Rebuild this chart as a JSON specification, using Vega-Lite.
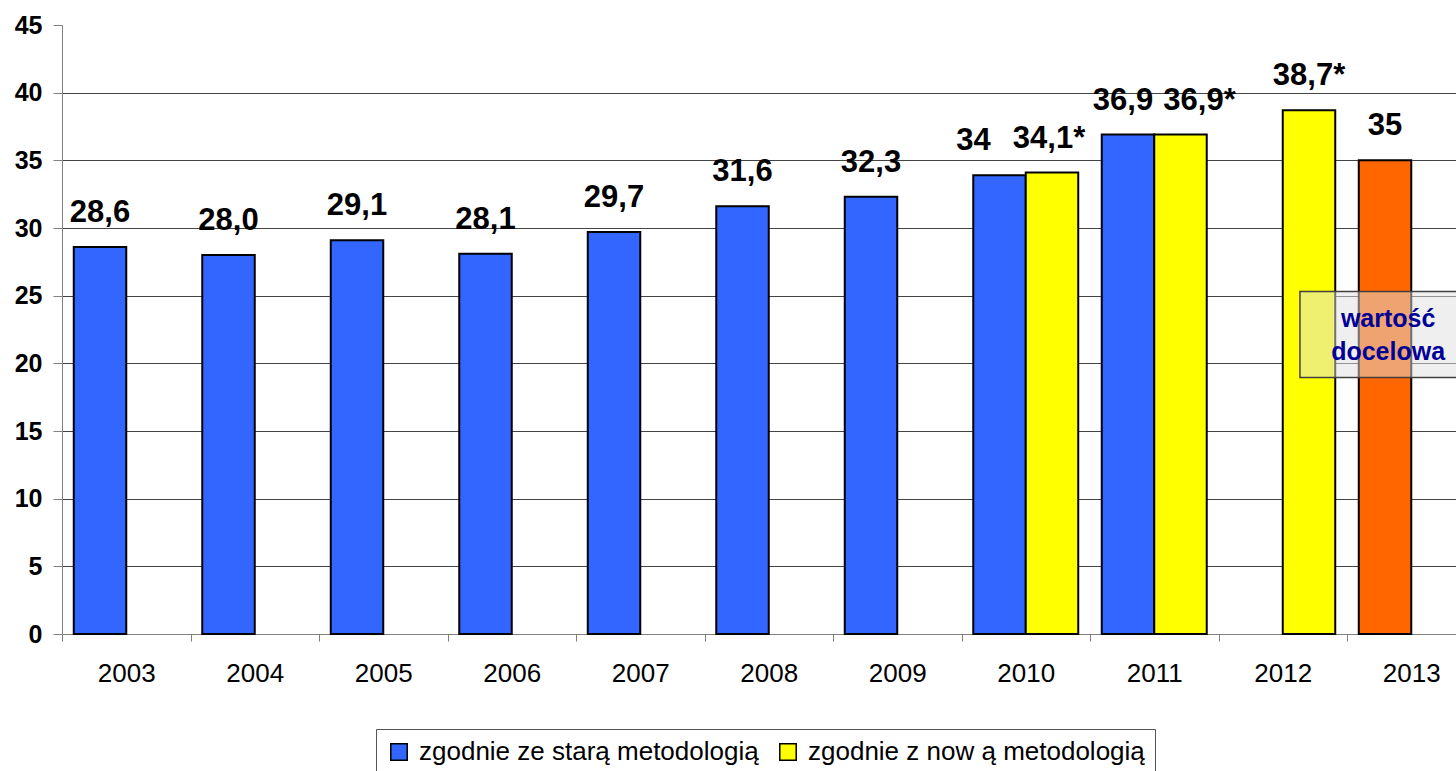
{
  "$schema": "https://vega.github.io/schema/vega-lite/v6.json",
  "width": 1394,
  "height": 609,
  "autosize": {"type": "none"},
  "padding": {"left": 62, "top": 25, "right": 0, "bottom": 137},
  "background": "white",
  "config": {"view": {"stroke": null}, "font": "Liberation Sans"},
  "datasets": {
    "bars": [
      {"year": "2003", "slot": "a", "series": "zgodnie ze starą metodologią", "value": 28.6, "label": "28,6"},
      {"year": "2004", "slot": "a", "series": "zgodnie ze starą metodologią", "value": 28.0, "label": "28,0"},
      {"year": "2005", "slot": "a", "series": "zgodnie ze starą metodologią", "value": 29.1, "label": "29,1"},
      {"year": "2006", "slot": "a", "series": "zgodnie ze starą metodologią", "value": 28.1, "label": "28,1"},
      {"year": "2007", "slot": "a", "series": "zgodnie ze starą metodologią", "value": 29.7, "label": "29,7"},
      {"year": "2008", "slot": "a", "series": "zgodnie ze starą metodologią", "value": 31.6, "label": "31,6"},
      {"year": "2009", "slot": "a", "series": "zgodnie ze starą metodologią", "value": 32.3, "label": "32,3"},
      {"year": "2010", "slot": "a", "series": "zgodnie ze starą metodologią", "value": 33.9, "label": "34"},
      {"year": "2010", "slot": "b", "series": "zgodnie z now ą metodologią", "value": 34.1, "label": "34,1*"},
      {"year": "2011", "slot": "a", "series": "zgodnie ze starą metodologią", "value": 36.9, "label": "36,9"},
      {"year": "2011", "slot": "b", "series": "zgodnie z now ą metodologią", "value": 36.9, "label": "36,9*"},
      {"year": "2012", "slot": "b", "series": "zgodnie z now ą metodologią", "value": 38.7, "label": "38,7*"},
      {"year": "2013", "slot": "a", "series": "cel", "value": 35, "label": "35"}
    ],
    "note": [{"x1": "2012", "x2": "2013", "top": 25.3, "bottom": 18.95}],
    "notetext": [
      {"year": "2013", "line": "wartość", "y": 22.65},
      {"year": "2013", "line": "docelowa", "y": 20.28}
    ]
  },
  "layer": [
    {
      "data": {"name": "bars"},
      "mark": {"type": "bar", "stroke": "black", "strokeWidth": 2},
      "encoding": {
        "x": {
          "field": "year", "type": "ordinal",
          "scale": {"domain": ["2003","2004","2005","2006","2007","2008","2009","2010","2011","2012","2013"], "range": [0, 1413.5], "paddingInner": 0, "paddingOuter": 0},
          "axis": {"title": null, "labelAngle": 0, "tickBand": "extent", "tickSize": 7, "tickColor": "#808080", "domainColor": "#808080", "labelFontSize": 26, "labelColor": "black", "labelPadding": 19, "grid": false}
        },
        "xOffset": {"field": "slot", "type": "nominal", "scale": {"domain": ["a", "b"], "paddingInner": 0, "paddingOuter": 0.224}},
        "y": {
          "field": "value", "type": "quantitative",
          "scale": {"domain": [0, 45], "nice": false},
          "axis": {"title": null, "values": [0,5,10,15,20,25,30,35,40,45], "grid": true,
            "gridColor": {"condition": {"test": "datum.value === 45 || datum.value === 0", "value": "transparent"}, "value": "#444444"},
            "domainColor": "#808080", "tickColor": "#808080", "tickSize": 9, "labelFontSize": 25, "labelFontWeight": "bold", "labelColor": "black", "labelPadding": 11}
        },
        "color": {
          "field": "series", "type": "nominal",
          "scale": {"domain": ["zgodnie ze starą metodologią", "zgodnie z now ą metodologią", "cel"], "range": ["#3366FF", "#FFFF00", "#FF6600"]},
          "legend": {"orient": "none", "legendX": 314, "legendY": 704, "direction": "horizontal", "title": null,
            "values": ["zgodnie ze starą metodologią", "zgodnie z now ą metodologią"],
            "strokeColor": "#555555", "padding": 10, "symbolType": "square", "symbolSize": 270,
            "symbolStrokeColor": "black", "symbolStrokeWidth": 1.5, "symbolOpacity": 1,
            "labelFontSize": 26, "labelColor": "black", "labelOffset": 7, "columnPadding": 16, "labelLimit": 0}
        }
      }
    },
    {
      "data": {"name": "bars"},
      "mark": {"type": "text", "fontSize": 31, "fontWeight": "bold", "baseline": "alphabetic", "dy": -25, "color": "black",
        "dx": {"expr": "datum.year === '2010' ? (datum.slot === 'a' ? -26 : -3) : (datum.year === '2011' ? (datum.slot === 'a' ? -5 : 19) : 0)"}},
      "encoding": {
        "x": {"field": "year", "type": "ordinal"},
        "xOffset": {"field": "slot", "type": "nominal"},
        "y": {"field": "value", "type": "quantitative"},
        "text": {"field": "label"}
      }
    },
    {
      "data": {"name": "note"},
      "mark": {"type": "rect", "fill": "#e0e0e0", "fillOpacity": 0.5, "stroke": "#404040", "strokeWidth": 1.5},
      "encoding": {
        "x": {"field": "x1", "type": "ordinal", "bandPosition": 0.634},
        "x2": {"field": "x2", "bandPosition": 1},
        "y": {"field": "top", "type": "quantitative"},
        "y2": {"field": "bottom"}
      }
    },
    {
      "data": {"name": "notetext"},
      "mark": {"type": "text", "fontSize": 25, "fontWeight": "bold", "color": "#000099", "baseline": "alphabetic"},
      "encoding": {
        "x": {"field": "year", "type": "ordinal", "bandPosition": 0.32},
        "y": {"field": "y", "type": "quantitative"},
        "text": {"field": "line"}
      }
    }
  ]
}
